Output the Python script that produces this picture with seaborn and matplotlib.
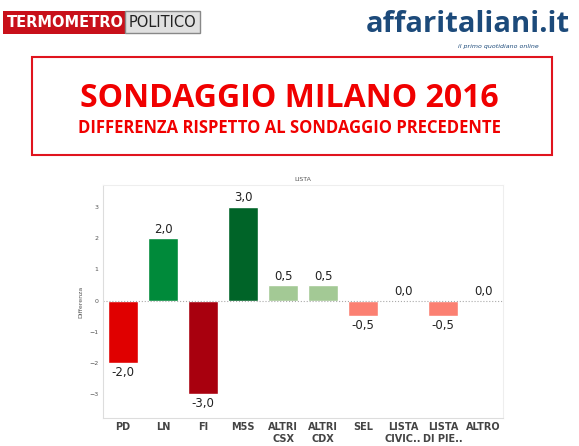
import matplotlib
matplotlib.use('Agg')
import matplotlib.pyplot as plt
import seaborn as sns
import pandas as pd
from matplotlib.patches import Rectangle

categories = ['PD', 'LN', 'FI', 'M5S', 'ALTRI\nCSX', 'ALTRI\nCDX', 'SEL', 'LISTA\nCIVIC..', 'LISTA\nDI PIE..', 'ALTRO']
values = [-2.0, 2.0, -3.0, 3.0, 0.5, 0.5, -0.5, 0.0, -0.5, 0.0]
colors = ['#e00000', '#008a3a', '#a8000e', '#006428', '#a3c995', '#a3c995',
          '#fb8072', '#cccccc', '#fb8072', '#cccccc']

df = pd.DataFrame({'lista': categories, 'diff': values})

sns.set_style('white')
fig = plt.figure(figsize=(5.79, 4.46), dpi=100)

# header logos as text
fig.text(0.012, 0.95, 'TERMOMETRO', color='white', fontsize=10.5, fontweight='bold', va='center',
         bbox=dict(facecolor='#c8101a', edgecolor='none', pad=3))
fig.text(0.222, 0.95, 'POLITICO', color='#222222', fontsize=10.5, va='center',
         bbox=dict(facecolor='#e0e0e0', edgecolor='#888888', pad=2.5))
fig.text(0.985, 0.945, 'affaritaliani.it', color='#1c4a7a', fontsize=21, fontweight='bold',
         ha='right', va='center', family='Open Sans')
fig.text(0.86, 0.895, 'il primo quotidiano online', color='#1c4a7a', fontsize=4.5,
         style='italic', ha='center', va='center')
fig.patches.append(Rectangle((32 / 579, 1 - 155 / 446), 520 / 579, 98 / 446,
                             transform=fig.transFigure, fill=False, edgecolor='#e0141e', lw=1.5))
fig.text(0.5, 0.78, 'SONDAGGIO MILANO 2016', color='#f00000', fontsize=23, fontweight='bold',
         ha='center', va='center', family='Open Sans')
fig.text(0.5, 0.712, 'DIFFERENZA RISPETTO AL SONDAGGIO PRECEDENTE', color='#f00000', fontsize=12,
         fontweight='bold', ha='center', va='center', family='Open Sans')

ax = fig.add_axes([0.178, 0.063, 0.691, 0.522])
sns.barplot(data=df, x='lista', y='diff', hue='lista', palette=colors, legend=False,
            width=0.75, saturation=1, ax=ax)
ax.axhline(0, color='#aaaaaa', ls=':', lw=0.8)
ax.set_ylim(-3.75, 3.7)
ax.set_yticks([-3, -2, -1, 0, 1, 2, 3])
ax.tick_params(axis='y', labelsize=4.5, colors='#555555', length=0)
ax.tick_params(axis='x', labelsize=7, length=0, pad=3)
for lab in ax.get_xticklabels():
    lab.set_fontweight('bold')
    lab.set_color('#444444')
ax.set_xlabel('')
ax.set_ylabel('Differenza', fontsize=4.5, color='#555555')
ax.set_title('LISTA', fontsize=4.5, color='#555555', pad=3)
for s in ['top', 'right']:
    ax.spines[s].set_color('#eeeeee')
for s in ['left', 'bottom']:
    ax.spines[s].set_color('#dddddd')
for i, v in enumerate(values):
    off = 0.08 if v >= 0 else -0.08
    ax.text(i, v + off, f'{v:.1f}'.replace('.', ','), ha='center',
            va='bottom' if v >= 0 else 'top', fontsize=8.5, color='#222222')

fig.savefig('out.png', dpi=100)
